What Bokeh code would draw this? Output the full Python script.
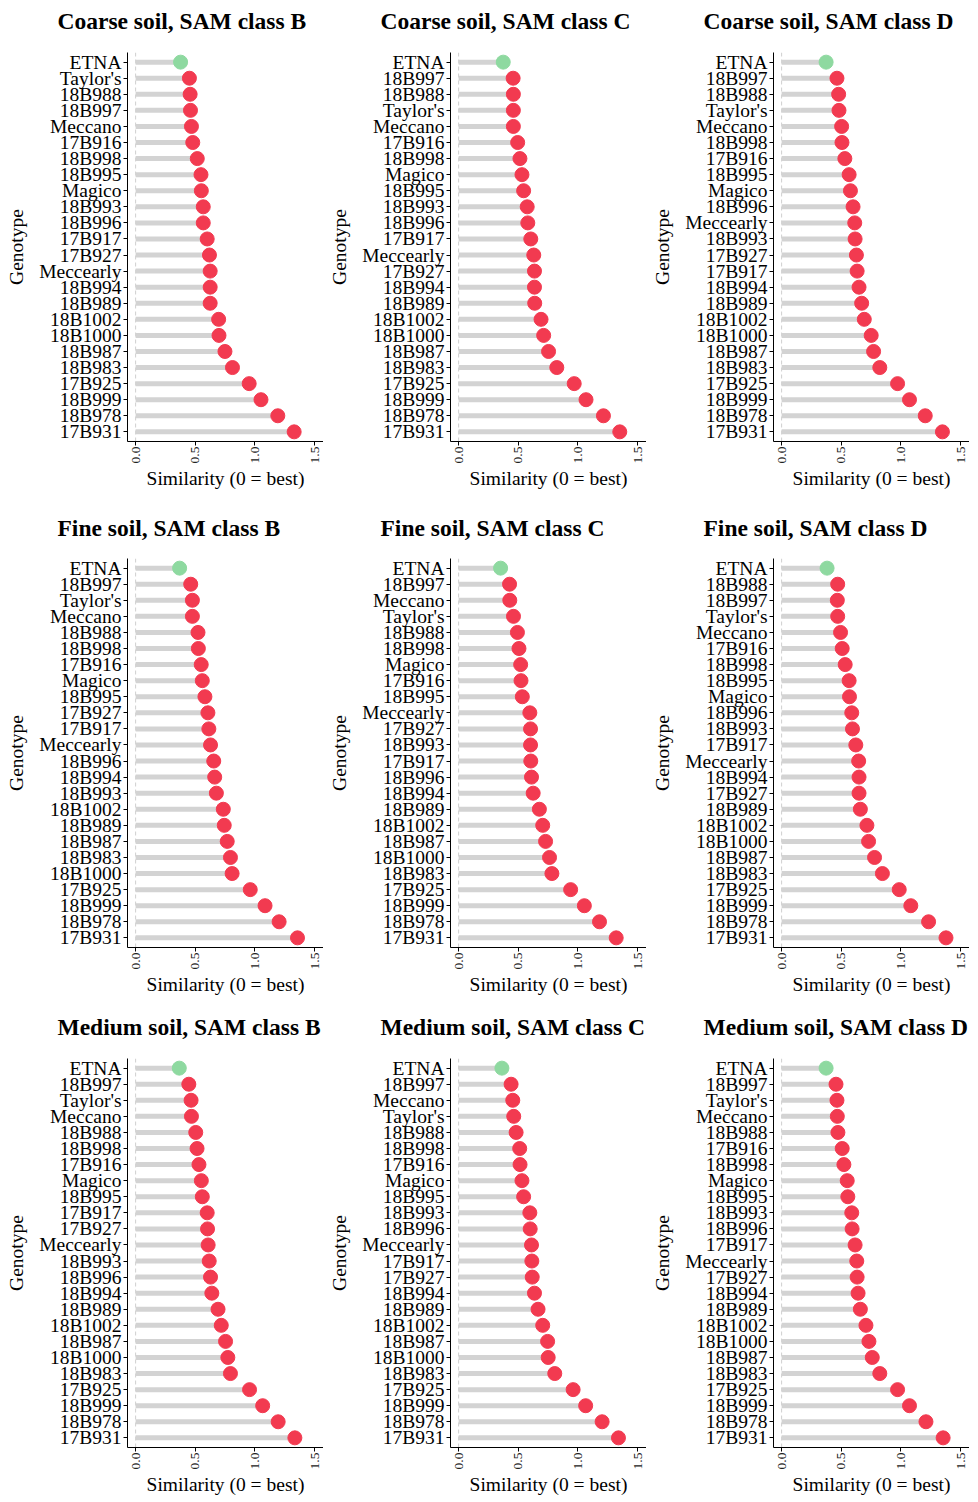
import math
from bokeh.plotting import figure
from bokeh.models import FactorRange, Range1d, FixedTicker, PrintfTickFormatter, Span
from bokeh.layouts import column, row
from bokeh.core.properties import value
from bokeh.embed import file_html
from bokeh.resources import INLINE

# ---------------- data ----------------
panel_titles = [
    "Coarse soil, SAM class B", "Coarse soil, SAM class C", "Coarse soil, SAM class D",
    "Fine soil, SAM class B", "Fine soil, SAM class C", "Fine soil, SAM class D",
    "Medium soil, SAM class B", "Medium soil, SAM class C", "Medium soil, SAM class D",
]

coarse_B_genotypes = ["ETNA", "Taylor's", "18B988", "18B997", "Meccano", "17B916", "18B998", "18B995",
                      "Magico", "18B993", "18B996", "17B917", "17B927", "Meccearly", "18B994", "18B989",
                      "18B1002", "18B1000", "18B987", "18B983", "17B925", "18B999", "18B978", "17B931"]
coarse_B_values = [0.377, 0.451, 0.457, 0.460, 0.468, 0.479, 0.517, 0.548,
                   0.551, 0.567, 0.567, 0.600, 0.619, 0.625, 0.625, 0.625,
                   0.696, 0.699, 0.749, 0.812, 0.952, 1.051, 1.192, 1.329]

coarse_C_genotypes = ["ETNA", "18B997", "18B988", "Taylor's", "Meccano", "17B916", "18B998", "Magico",
                      "18B995", "18B993", "18B996", "17B917", "Meccearly", "17B927", "18B994", "18B989",
                      "18B1002", "18B1000", "18B987", "18B983", "17B925", "18B999", "18B978", "17B931"]
coarse_C_values = [0.374, 0.457, 0.459, 0.459, 0.459, 0.495, 0.514, 0.531,
                   0.545, 0.575, 0.580, 0.605, 0.630, 0.636, 0.636, 0.638,
                   0.691, 0.713, 0.754, 0.823, 0.969, 1.068, 1.214, 1.351]

coarse_D_genotypes = ["ETNA", "18B997", "18B988", "Taylor's", "Meccano", "18B998", "17B916", "18B995",
                      "Magico", "18B996", "Meccearly", "18B993", "17B927", "17B917", "18B994", "18B989",
                      "18B1002", "18B1000", "18B987", "18B983", "17B925", "18B999", "18B978", "17B931"]
coarse_D_values = [0.373, 0.464, 0.478, 0.481, 0.503, 0.506, 0.530, 0.566,
                   0.577, 0.599, 0.613, 0.616, 0.627, 0.633, 0.649, 0.671,
                   0.693, 0.751, 0.771, 0.823, 0.972, 1.072, 1.204, 1.348]

fine_B_genotypes = ["ETNA", "18B997", "Taylor's", "Meccano", "18B988", "18B998", "17B916", "Magico",
                    "18B995", "17B927", "17B917", "Meccearly", "18B996", "18B994", "18B993", "18B1002",
                    "18B989", "18B987", "18B983", "18B1000", "17B925", "18B999", "18B978", "17B931"]
fine_B_values = [0.369, 0.462, 0.476, 0.476, 0.523, 0.526, 0.550, 0.559,
                 0.581, 0.606, 0.614, 0.628, 0.655, 0.663, 0.677, 0.735,
                 0.743, 0.768, 0.795, 0.809, 0.961, 1.085, 1.203, 1.357]

fine_C_genotypes = ["ETNA", "18B997", "Meccano", "Taylor's", "18B988", "18B998", "Magico", "17B916",
                    "18B995", "Meccearly", "17B927", "18B993", "17B917", "18B996", "18B994", "18B989",
                    "18B1002", "18B987", "18B1000", "18B983", "17B925", "18B999", "18B978", "17B931"]
fine_C_values = [0.352, 0.427, 0.429, 0.460, 0.493, 0.506, 0.520, 0.523,
                 0.534, 0.597, 0.603, 0.603, 0.605, 0.611, 0.625, 0.677,
                 0.705, 0.729, 0.762, 0.782, 0.939, 1.054, 1.181, 1.321]

fine_D_genotypes = ["ETNA", "18B988", "18B997", "Taylor's", "Meccano", "17B916", "18B998", "18B995",
                    "Magico", "18B996", "18B993", "17B917", "Meccearly", "18B994", "17B927", "18B989",
                    "18B1002", "18B1000", "18B987", "18B983", "17B925", "18B999", "18B978", "17B931"]
fine_D_values = [0.381, 0.470, 0.467, 0.470, 0.494, 0.508, 0.533, 0.566,
                 0.569, 0.588, 0.594, 0.622, 0.646, 0.649, 0.649, 0.660,
                 0.715, 0.729, 0.779, 0.845, 0.986, 1.083, 1.232, 1.378]

medium_B_genotypes = ["ETNA", "18B997", "Taylor's", "Meccano", "18B988", "18B998", "17B916", "Magico",
                      "18B995", "17B917", "17B927", "Meccearly", "18B993", "18B996", "18B994", "18B989",
                      "18B1002", "18B987", "18B1000", "18B983", "17B925", "18B999", "18B978", "17B931"]
medium_B_values = [0.366, 0.446, 0.465, 0.468, 0.504, 0.515, 0.531, 0.551,
                   0.559, 0.600, 0.603, 0.608, 0.617, 0.628, 0.639, 0.691,
                   0.718, 0.754, 0.773, 0.795, 0.955, 1.065, 1.195, 1.335]

medium_C_genotypes = ["ETNA", "18B997", "Meccano", "Taylor's", "18B988", "18B998", "17B916", "Magico",
                      "18B995", "18B993", "18B996", "Meccearly", "17B917", "17B927", "18B994", "18B989",
                      "18B1002", "18B987", "18B1000", "18B983", "17B925", "18B999", "18B978", "17B931"]
medium_C_values = [0.363, 0.440, 0.454, 0.462, 0.482, 0.512, 0.515, 0.531,
                   0.545, 0.597, 0.600, 0.611, 0.614, 0.617, 0.636, 0.666,
                   0.705, 0.746, 0.751, 0.806, 0.960, 1.065, 1.203, 1.340]

medium_D_genotypes = ["ETNA", "18B997", "Taylor's", "Meccano", "18B988", "17B916", "18B998", "Magico",
                      "18B995", "18B993", "18B996", "17B917", "Meccearly", "17B927", "18B994", "18B989",
                      "18B1002", "18B1000", "18B987", "18B983", "17B925", "18B999", "18B978", "17B931"]
medium_D_values = [0.373, 0.456, 0.464, 0.467, 0.472, 0.508, 0.522, 0.550,
                   0.555, 0.588, 0.591, 0.616, 0.630, 0.633, 0.641, 0.660,
                   0.707, 0.732, 0.760, 0.823, 0.972, 1.072, 1.210, 1.354]

x_ticks = [0.0, 0.5, 1.0, 1.5]
x_label = "Similarity (0 = best)"
y_label = "Genotype"
reference_genotype = "ETNA"

panel_genotypes = [coarse_B_genotypes, coarse_C_genotypes, coarse_D_genotypes,
                   fine_B_genotypes, fine_C_genotypes, fine_D_genotypes,
                   medium_B_genotypes, medium_C_genotypes, medium_D_genotypes]
panel_values = [coarse_B_values, coarse_C_values, coarse_D_values,
                fine_B_values, fine_C_values, fine_D_values,
                medium_B_values, medium_C_values, medium_D_values]

# ---------------- style / layout ----------------
FONT = "Liberation Serif"
RED = "#F23A50"
GREEN = "#8ED9A0"
GREY = "#D3D3D3"
W = 323                 # width of each column
LEFT = 127              # left border (tick labels + axis title)
FRAME_W, FRAME_H = 196, 389
ROW_H = 498
TITLE_H = [48, 56, 56]  # height of the title strip of each row
TITLE_Y = [28, 27, 28]  # vertical middle of the title text inside its strip
PLOT_TOP = 4            # border above each plot frame


def make_title(text, h, ty):
    t = figure(width=W, height=h, output_backend="svg", toolbar_location=None,
               x_range=Range1d(0, W), y_range=Range1d(0, h),
               x_axis_location=None, y_axis_location=None, min_border=0)
    t.outline_line_color = None
    t.grid.visible = False
    t.background_fill_color = "white"
    t.border_fill_color = "white"
    t.text(x=[LEFT - 70], y=[ty], text=[text], text_font=value(FONT),
           text_font_size="23.5px", text_font_style="bold", text_color="#000000",
           text_align="left", text_baseline="middle")
    return t


def make_panel(genos, vals, title_h):
    factors = list(reversed(genos))
    bottom = ROW_H - title_h - PLOT_TOP - FRAME_H
    p = figure(frame_width=FRAME_W, frame_height=FRAME_H,
               output_backend="svg", toolbar_location=None,
               x_range=Range1d(-0.068, 1.575),
               y_range=FactorRange(factors=factors, range_padding=0.1,
                                   range_padding_units="absolute"),
               min_border_left=LEFT, min_border_right=W - LEFT - FRAME_W,
               min_border_top=PLOT_TOP, min_border_bottom=bottom)

    p.outline_line_color = None
    p.xgrid.visible = False
    p.ygrid.visible = False
    p.background_fill_color = "white"
    p.border_fill_color = "white"

    zero = Span(location=0, dimension="height", line_color="#CFCFCF",
                line_dash="4 3", line_width=1, level="underlay")
    p.add_layout(zero)

    colors = [GREEN if g == reference_genotype else RED for g in genos]
    zeros = [0.0] * len(genos)
    p.segment(x0=zeros, y0=genos, x1=vals, y1=genos, line_color=GREY,
              line_width=5, line_cap="butt")
    p.scatter(x=vals, y=genos, size=14, fill_color=colors, line_color=colors)

    xa = p.xaxis[0]
    xa.ticker = FixedTicker(ticks=x_ticks)
    xa.formatter = PrintfTickFormatter(format="%.1f")
    xa.major_label_orientation = math.pi / 2
    xa.minor_tick_line_color = None
    xa.major_tick_in = 0
    xa.major_tick_out = 4
    xa.major_label_standoff = 1
    xa.major_label_text_font = FONT
    xa.major_label_text_font_size = "13.5px"
    xa.major_label_text_color = "#222222"
    xa.axis_label = x_label
    xa.axis_label_text_font = FONT
    xa.axis_label_text_font_size = "19.5px"
    xa.axis_label_text_font_style = "normal"
    xa.axis_label_text_color = "#000000"
    xa.axis_label_standoff = 2
    xa.axis_line_color = "#000000"
    xa.major_tick_line_color = "#000000"

    ya = p.yaxis[0]
    ya.major_tick_in = 0
    ya.major_tick_out = 4
    ya.major_label_standoff = 2
    ya.major_label_text_font = FONT
    ya.major_label_text_font_size = "19.5px"
    ya.major_label_text_color = "#000000"
    ya.axis_label = y_label
    ya.axis_label_text_font = FONT
    ya.axis_label_text_font_size = "19.5px"
    ya.axis_label_text_font_style = "normal"
    ya.axis_label_text_color = "#000000"
    ya.axis_label_standoff = 9
    ya.axis_line_color = "#000000"
    ya.major_tick_line_color = "#000000"
    return p


rows = []
for r in range(3):
    idx = range(3 * r, 3 * r + 3)
    titles = [make_title(panel_titles[i], TITLE_H[r], TITLE_Y[r]) for i in idx]
    panels = [make_panel(panel_genotypes[i], panel_values[i], TITLE_H[r]) for i in idx]
    rows.append(row(*titles))
    rows.append(row(*panels))

layout = column(*rows)

open("out.html", "w").write(file_html(layout, INLINE))
